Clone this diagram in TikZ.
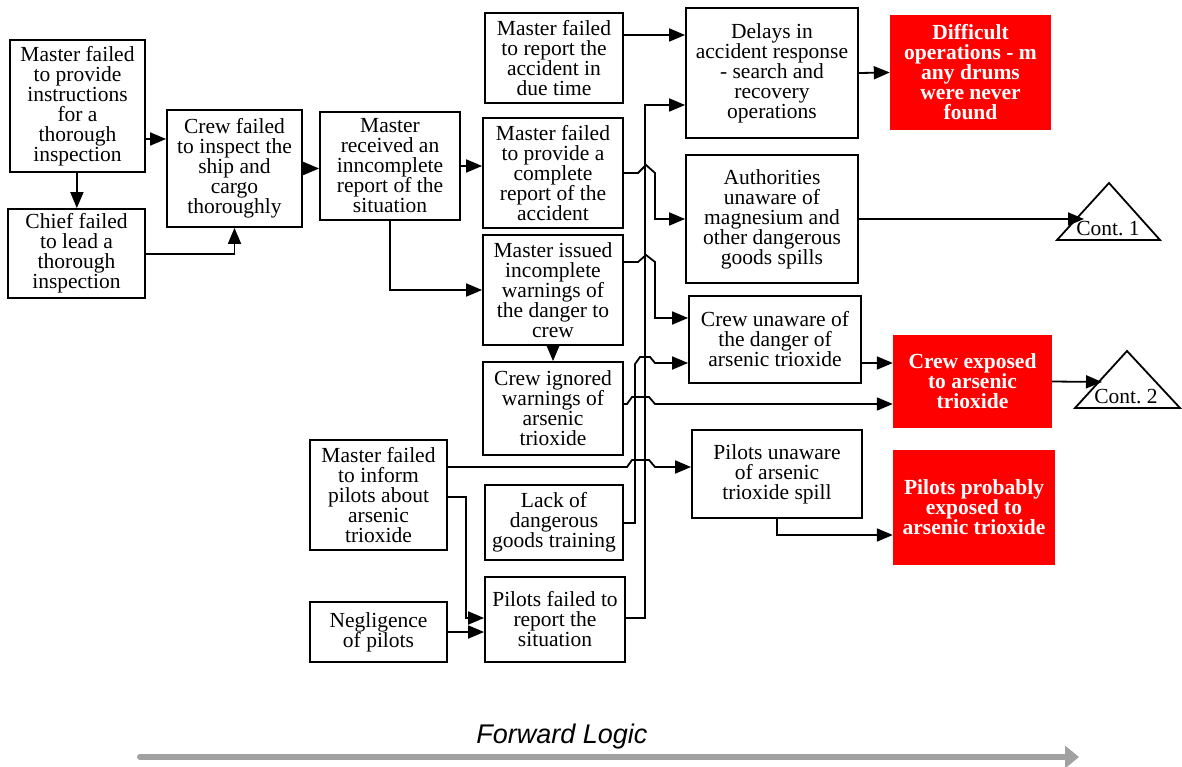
\documentclass[tikz,border=0pt]{standalone}
\usepackage{fontspec}
\setmainfont{Liberation Serif}
\setsansfont{Liberation Sans}
\usetikzlibrary{arrows.meta}

\tikzset{
  >={Triangle[length=16pt,width=13pt]},
  box/.style={draw, line width=1.8pt, align=center, inner sep=0pt},
  redbox/.style={fill=red, text=white, align=center, inner sep=0pt,
    font=\fontsize{21.5}{20}\selectfont\bfseries},
  link/.style={->, line width=1.8pt},
}

\begin{document}
\begin{tikzpicture}[x=1pt, y=-1pt, font=\fontsize{21.5}{20}\selectfont]
    \useasboundingbox (0,0) rectangle (1182,767);

    %% Root causes on the left
    \node[box, minimum width=135pt, minimum height=132pt] (instrfail) at (77.5,106)
        {Master failed\\to provide\\instructions\\for a\\thorough\\inspection};
    \node[box, minimum width=137pt, minimum height=89pt] (chieffail) at (76.5,253.5)
        {Chief failed\\to lead a\\thorough\\inspection};
    \node[box, minimum width=135pt, minimum height=117pt] (crewinsp) at (234.5,168.5)
        {Crew failed\\to inspect the\\ship and\\cargo\\thoroughly};
    \node[box, minimum width=140pt, minimum height=108pt] (masterrecv) at (390,166)
        {Master\\received an\\inncomplete\\report of the\\situation};
    \node[box, minimum width=137pt, minimum height=110pt] (informpilots) at (378.5,495)
        {Master failed\\to inform\\pilots about\\arsenic\\trioxide};
    \node[box, minimum width=137pt, minimum height=60pt] (negligence) at (378.5,632)
        {Negligence\\of pilots};

    %% Middle column
    \node[box, minimum width=138pt, minimum height=90pt] (duetime) at (554,58)
        {Master failed\\to report the\\accident in\\due time};
    \node[box, minimum width=140pt, minimum height=110pt] (compreport) at (553,173)
        {Master failed\\to provide a\\complete\\report of the\\accident};
    \node[box, minimum width=140pt, minimum height=110pt] (warnings) at (553,290)
        {Master issued\\incomplete\\warnings of\\the danger to\\crew};
    \node[box, minimum width=140pt, minimum height=93pt] (crewignored) at (553,408.5)
        {Crew ignored\\warnings of\\arsenic\\trioxide};
    \node[box, minimum width=138pt, minimum height=75pt] (dgtraining) at (554,522.5)
        {Lack of\\dangerous\\goods training};
    \node[box, minimum width=140pt, minimum height=85pt] (pilotsreport) at (555,619.5)
        {Pilots failed to\\report the\\situation};

    %% Effects
    \node[box, minimum width=172pt, minimum height=130pt] (delays) at (772,73)
        {Delays in\\accident response\\- search and\\recovery\\operations};
    \node[box, minimum width=172pt, minimum height=128pt] (authunaware) at (772,219)
        {Authorities\\unaware of\\magnesium and\\other dangerous\\goods spills};
    \node[box, minimum width=172pt, minimum height=87pt] (crewunaware) at (775,339.5)
        {Crew unaware of\\the danger of\\arsenic trioxide};
    \node[box, minimum width=170pt, minimum height=88pt] (pilotsunaware) at (777,474)
        {Pilots unaware\\of arsenic\\trioxide spill};

    %% Consequences
    \node[redbox, minimum width=161pt, minimum height=115pt] (difficultops) at (970.5,72.5)
        {Difficult\\operations - m\\any drums\\were never\\found};
    \node[redbox, minimum width=159pt, minimum height=93pt] (crewexposed) at (972.5,381.5)
        {Crew exposed\\to arsenic\\trioxide};
    \node[redbox, minimum width=162pt, minimum height=115pt] (pilotsexposed) at (974,507.5)
        {Pilots probably\\exposed to\\arsenic trioxide};

    %% Continuation triangles
    \draw[line width=1.8pt] (1057,240) -- (1109,183) -- (1160,240) -- cycle;
    \node (cont1) at (1108,229) {Cont.~1};
    \coordinate (cont1in) at (1084,219);
    \draw[line width=1.8pt] (1075,408) -- (1127,351) -- (1180,408) -- cycle;
    \node (cont2) at (1126,397) {Cont.~2};
    \coordinate (cont2in) at (1102,382);

    %% Left part of the chain
    \draw[link] (instrfail) -- (chieffail);
    \draw[link] (instrfail.east |- 0,139) -- (crewinsp.west |- 0,139);
    \draw[link] (chieffail.east |- 0,254) -| (crewinsp.south);
    \draw[link] (crewinsp.east) -- (masterrecv.west |- crewinsp.east);
    \draw[link] (masterrecv.east) -- (compreport.west |- masterrecv.east);
    \draw[link] (masterrecv.south) |- (warnings.west);
    \draw[link] (warnings) -- (crewignored);
    \draw[link] (informpilots.east |- 0,497) -- (466,497) |- (pilotsreport.west |- 0,618);
    \draw[link] (negligence.east) -- (pilotsreport.west |- negligence.east);

    %% Connectors to the effects, with hops over the buses
    \draw[link] (duetime.east |- 0,35) -- (delays.west |- 0,35);
    \draw[link] (pilotsreport.east |- 0,618) -- (645,618) |- (delays.west |- 0,105);
    \draw[link] (compreport.east) -- (638,173) -- (646,165) -- (655,173)
        |- (authunaware.west);
    \draw[link] (warnings.east |- 0,262) -- (638,262) -- (646,255) -- (655,262)
        |- (crewunaware.west |- 0,318);
    \draw[link] (dgtraining.east |- 0,523) -- (635,523) -- (635,364) -- (640,357)
        -- (650,357) -- (655,363) -- (crewunaware.west |- 0,363);
    \draw[link] (crewignored.east |- 0,404) -- (627,404) -- (632,397) -- (649,397)
        -- (655,404) -- (crewexposed.west |- 0,404);
    \draw[link] (informpilots.east |- 0,467) -- (627,467) -- (632,460) -- (649,460)
        -- (655,467) -- (pilotsunaware.west |- 0,467);

    %% Effects to consequences
    \draw[link] (delays.east) -- (difficultops.west);
    \draw[link] (authunaware.east) -- (cont1in);
    \draw[link] (crewunaware.east |- 0,363) -- (crewexposed.west |- 0,363);
    \draw[link] (crewexposed.east) -- (cont2in);
    \draw[link] (pilotsunaware.south) |- (pilotsexposed.west |- 0,535);

    %% Direction of reading
    \coordinate (fwdstart) at (140,757);
    \coordinate (fwdend) at (1079,757);
    \draw[line width=6pt, color=black!37, line cap=round,
        -{Triangle[length=14pt,width=22pt]}] (fwdstart) -- (fwdend);
    \node[font=\fontsize{27}{30}\selectfont\sffamily\itshape] (fwdlabel) at (562,737)
        {Forward Logic};
\end{tikzpicture}
\end{document}
